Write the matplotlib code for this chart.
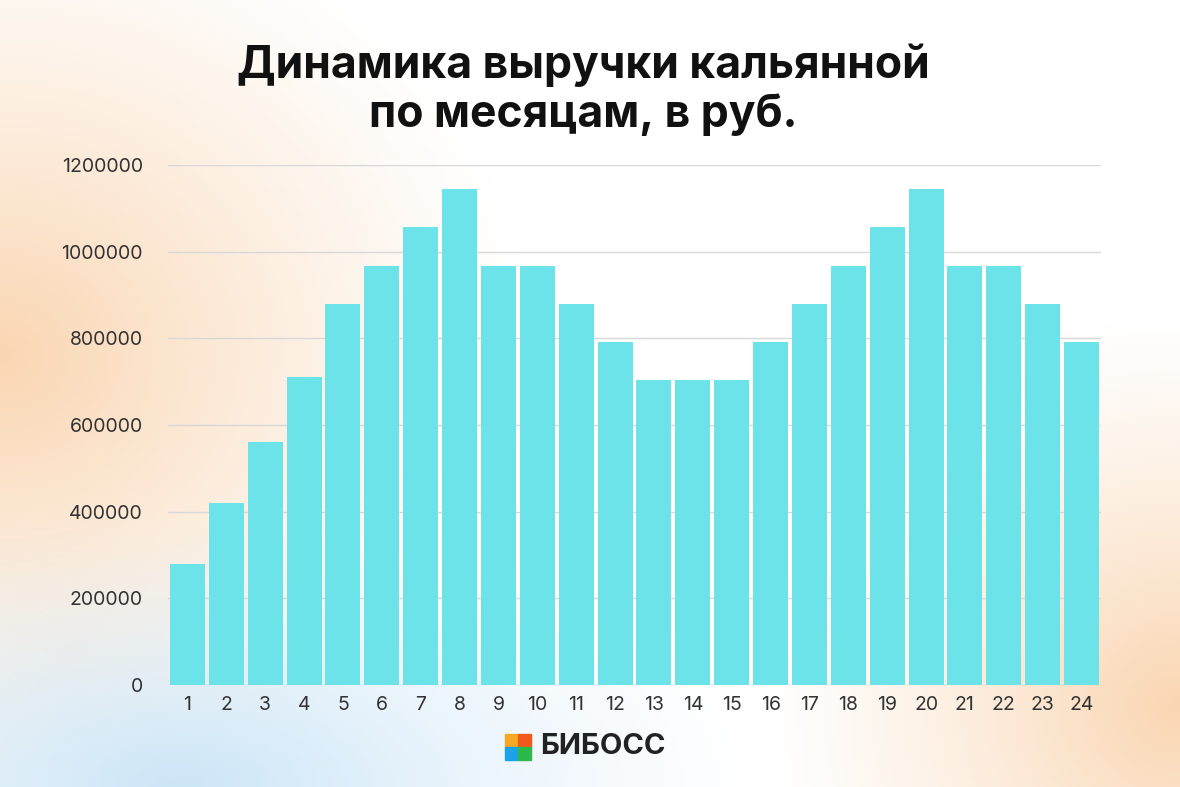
import numpy as np
import matplotlib
matplotlib.use("Agg")
import matplotlib.pyplot as plt
from matplotlib.patches import Rectangle

months = list(range(1, 25))
revenue = [280000, 420000, 560000, 710000, 880000, 968000, 1056000, 1144000,
           968000, 968000, 880000, 792000, 704000, 704000, 704000, 792000,
           880000, 968000, 1056000, 1144000, 968000, 968000, 880000, 792000]
y_ticks = [0, 200000, 400000, 600000, 800000, 1000000, 1200000]
title = "Динамика выручки кальянной\nпо месяцам, в руб."

W, H = 1180, 787
fig = plt.figure(figsize=(W / 100, H / 100), dpi=100)

# soft background: peach on the sides, light blue bottom-left, white centre
bg_ax = fig.add_axes([0, 0, 1, 1])
xx, yy = np.meshgrid(np.linspace(0, 1, 300), np.linspace(0, 1, 200))
white = np.array([1.0, 1.0, 1.0])
peach = np.array([0.98, 0.84, 0.70])
blue = np.array([0.80, 0.90, 0.97])
w_left = np.clip(1 - np.hypot((xx - 0.0) / 0.45, (yy - 0.45) / 0.6), 0, 1)
w_right = np.clip(1 - np.hypot((xx - 1.0) / 0.35, (yy - 0.9) / 0.5), 0, 1)
w_blue = np.clip(1 - np.hypot((xx - 0.15) / 0.5, (yy - 1.0) / 0.35), 0, 1)
img = white[None, None, :] * np.ones_like(xx)[..., None]
img = img + (peach - white) * (np.maximum(w_left, w_right) ** 1.2)[..., None]
img = img + (blue - img) * (w_blue ** 1.3)[..., None]
bg_ax.imshow(np.clip(img, 0, 1), extent=[0, 1, 0, 1], aspect="auto")
bg_ax.axis("off")

ax = fig.add_axes([168 / W, 1 - 685 / H, (1101 - 168) / W, (685 - 165) / H])
ax.patch.set_alpha(0)
ax.bar(months, revenue, width=0.9, color="#6be3e8", zorder=3)
ax.set_xlim(0.5, 24.5)
ax.set_ylim(0, 1200000)
ax.set_xticks(months)
ax.set_yticks(y_ticks)
ax.set_yticklabels([str(v) for v in y_ticks])
ax.grid(axis="y", color="#d8d8d8", linewidth=1, zorder=0)
for side in ("top", "right", "left", "bottom"):
    ax.spines[side].set_visible(False)
ax.tick_params(length=0, labelsize=14, colors="#333333")
ax.tick_params(axis="y", pad=18)
ax.tick_params(axis="x", pad=8)
for lbl in ax.get_xticklabels() + ax.get_yticklabels():
    lbl.set_family("Inter")

fig.text(0.494, 0.945, title, ha="center", va="top", fontsize=32,
         fontweight="bold", family="Inter", linespacing=1.2, color="#111111")

# logo
sq = 13 / W
sqh = 13 / H
x0, y0 = 505 / W, 1 - 760 / H
for dx, dy, c in [(0, 1, "#f7a823"), (1, 1, "#f25a1c"), (0, 0, "#1aa3e8"), (1, 0, "#2db84c")]:
    fig.patches.append(Rectangle((x0 + dx * sq, y0 + dy * sqh), sq, sqh,
                                 transform=fig.transFigure, color=c))
fig.text(540 / W, 1 - 747 / H, "БИБОСС", ha="left", va="center", fontsize=21,
         fontweight="bold", family="Inter", color="#222222")

fig.savefig("out.png", dpi=100)
